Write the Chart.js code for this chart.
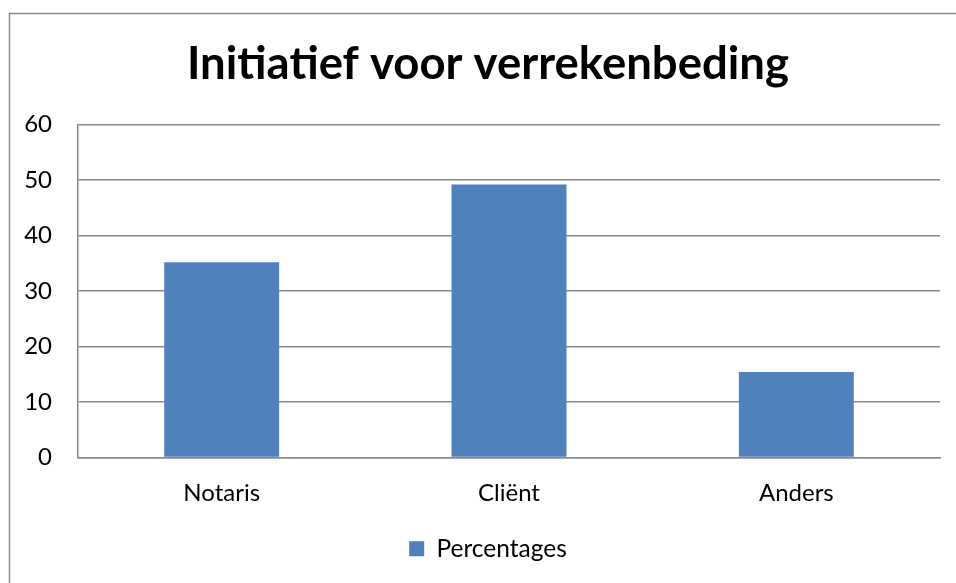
<!DOCTYPE html>
<html>
<head>
<meta charset="utf-8">
<script src="https://cdn.jsdelivr.net/npm/chart.js@4.4.1/dist/chart.umd.min.js"></script>
<style>
  html, body { margin: 0; padding: 0; background: #fff; overflow: hidden; }
  #wrap { position: relative; width: 976px; height: 583px; }
</style>
</head>
<body>
<div id="wrap"><canvas id="chart"></canvas></div>
<script>
// data
var categories = ["Notaris", "Cliënt", "Anders"];
var percentages = [35.2, 49.2, 15.4];
var seriesName = "Percentages";
var chartTitle = "Initiatief voor verrekenbeding";

var gridColor = "#898989";
var font = "Lato, 'Open Sans', sans-serif";

// grey frame round the whole chart, as in the office chart
var framePlugin = {
  id: "frame",
  beforeDraw: function( chart ) {
    var ctx = chart.ctx;
    ctx.save();
    ctx.fillStyle = "#fff";
    ctx.fillRect( 0, 0, chart.width, chart.height );
    ctx.strokeStyle = "#8c8c8c";
    ctx.lineWidth = 1.5;
    ctx.strokeRect( 9.5, 13.5, 956, 600 );
    ctx.restore();
  }
};

new Chart( document.getElementById( "chart" ), {
  type: "bar",
  data: {
    labels: categories,
    datasets: [ {
      label: seriesName,
      data: percentages,
      backgroundColor: "#4F81BD",
      borderWidth: 0,
      barPercentage: 0.4,
      categoryPercentage: 1.0
    } ]
  },
  options: {
    responsive: true,
    maintainAspectRatio: false,
    animation: false,
    layout: { padding: { left: 0, right: 0, top: 0, bottom: 12 } },
    plugins: {
      title: {
        display: true,
        text: chartTitle,
        color: "#000",
        font: { family: font, size: 45.5, weight: "bold" },
        padding: { top: 37, bottom: 33 }
      },
      legend: {
        position: "bottom",
        labels: {
          color: "#000",
          font: { family: font, size: 24.5 },
          boxWidth: 15,
          boxHeight: 15,
          padding: 9
        }
      },
      tooltip: { enabled: false }
    },
    scales: {
      x: {
        grid: { display: false, drawTicks: false },
        border: { display: true, color: gridColor, width: 1.5 },
        ticks: { color: "#000", font: { family: font, size: 24 }, padding: 21 },
        afterFit: function( s ) { s.height = 70; }
      },
      y: {
        min: 0,
        max: 60,
        ticks: { stepSize: 10, color: "#000", font: { family: font, size: 24 }, padding: 26 },
        grid: { color: gridColor, lineWidth: 1.5, drawTicks: false },
        border: { display: true, color: gridColor, width: 1.5 },
        afterFit: function( s ) { s.width = 78; }
      },
      // empty axis on the right only to keep the plot off the frame
      y2: {
        position: "right",
        display: true,
        grid: { display: false, drawTicks: false },
        border: { display: false },
        ticks: { display: false },
        afterFit: function( s ) { s.width = 36; }
      }
    }
  },
  plugins: [ framePlugin ]
} );
</script>
</body>
</html>
